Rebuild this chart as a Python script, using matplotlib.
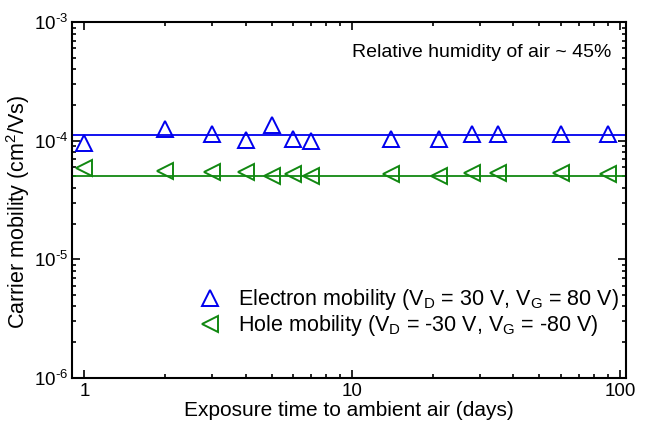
import matplotlib
matplotlib.use("Agg")
import matplotlib.pyplot as plt
from matplotlib.ticker import LogLocator, NullFormatter, FuncFormatter
import numpy as np

plt.rcParams['font.family'] = ['Liberation Sans', 'DejaVu Sans']
plt.rcParams['mathtext.fontset'] = 'custom'
plt.rcParams['mathtext.rm'] = 'Liberation Sans'
plt.rcParams['mathtext.default'] = 'regular'

days = [1, 2, 3, 4, 5, 6, 7, 14, 21, 28, 35, 60, 90]
electron = [0.95e-4, 1.26e-4, 1.15e-4, 1.02e-4, 1.36e-4, 1.03e-4, 1.0e-4,
            1.03e-4, 1.03e-4, 1.15e-4, 1.15e-4, 1.15e-4, 1.15e-4]
hole = [5.9e-5, 5.6e-5, 5.4e-5, 5.4e-5, 5.05e-5, 5.2e-5, 5.05e-5,
        5.2e-5, 5.05e-5, 5.3e-5, 5.3e-5, 5.3e-5, 5.2e-5]
electron_fit = 1.12e-4
hole_fit = 5.0e-5

fig = plt.figure(figsize=(6.45, 4.26), dpi=100)
ax = fig.add_axes([0.112, 0.113, 0.858, 0.835])

ax.axhline(electron_fit, color='#0000ee', lw=1.3)
ax.axhline(hole_fit, color='#118811', lw=1.3)
ax.plot(days, electron, '^', ms=12, mfc='none', mec='#0000ee', mew=1.4,
        label='Electron mobility (V$_D$ = 30 V, V$_G$ = 80 V)')
ax.plot(days, hole, '<', ms=12, mfc='none', mec='#118811', mew=1.4,
        label='Hole mobility (V$_D$ = -30 V, V$_G$ = -80 V)')

ax.set_xscale('log')
ax.set_yscale('log')
ax.set_xlim(0.9, 105)
ax.set_ylim(1e-6, 1e-3)
ax.set_xticks([1, 10, 100])
ax.set_xticklabels(['1', '10', '100'])
ax.yaxis.set_major_locator(LogLocator(base=10, numticks=10))
ax.yaxis.set_major_formatter(FuncFormatter(
    lambda v, p: '10$^{\\text{-%d}}$' % round(-np.log10(v))))
ax.yaxis.set_minor_locator(LogLocator(base=10, subs=range(2, 10), numticks=20))
ax.yaxis.set_minor_formatter(NullFormatter())
ax.xaxis.set_minor_formatter(NullFormatter())

ax.tick_params(which='both', direction='in', top=True, right=True, labelsize=13.5, width=1.2)
ax.tick_params(which='major', length=6)
ax.tick_params(which='minor', length=3)
ax.tick_params(axis='y', pad=3)
for s in ax.spines.values():
    s.set_linewidth(1.5)

ax.set_xlabel('Exposure time to ambient air (days)', fontsize=15, labelpad=1)
ax.set_ylabel('Carrier mobility (cm$^2$/Vs)', fontsize=15.5)
ax.yaxis.set_label_coords(-0.072, 0.466)
ax.text(0.975, 0.915, 'Relative humidity of air ~ 45%', transform=ax.transAxes,
        ha='right', va='center', fontsize=14)
ax.legend(loc='lower right', bbox_to_anchor=(1.012, 0.075), frameon=False,
          fontsize=15.5, handlelength=1.0, handletextpad=0.8,
          labelspacing=0.05, borderaxespad=0.2)

fig.savefig('out.png', dpi=100)
